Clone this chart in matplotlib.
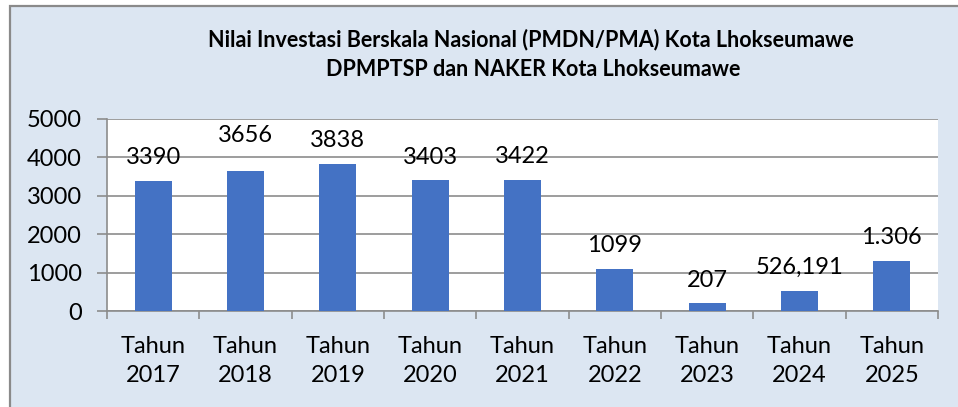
import matplotlib
matplotlib.use("Agg")
import matplotlib.pyplot as plt
from matplotlib.patches import Rectangle
from matplotlib.ticker import FixedLocator, NullFormatter

plt.rcParams['font.family'] = ['Lato', 'DejaVu Sans']

categories = ["Tahun\n2017", "Tahun\n2018", "Tahun\n2019", "Tahun\n2020", "Tahun\n2021",
              "Tahun\n2022", "Tahun\n2023", "Tahun\n2024", "Tahun\n2025"]
values = [3390, 3656, 3838, 3403, 3422, 1099, 207, 526.191, 1306]
value_labels = ["3390", "3656", "3838", "3403", "3422", "1099", "207", "526,191", "1.306"]
yticks = [0, 1000, 2000, 3000, 4000, 5000]
title_lines = ["Nilai Investasi Berskala Nasional (PMDN/PMA) Kota Lhokseumawe",
               "DPMPTSP dan NAKER Kota Lhokseumawe"]

# label offsets above bar tops (points); the 2018 label sits higher in the original
label_offsets = [9, 17.5, 9, 9, 9, 9, 9, 9, 9]

W, H = 958, 407
fig = plt.figure(figsize=(W / 100, H / 100), dpi=100)
fig.patch.set_facecolor("white")

bg = "#dce6f2"
frame = Rectangle((10 / W, -0.05), 1.0, (H - 6) / H + 0.05, transform=fig.transFigure,
                  facecolor=bg, edgecolor="#8a8a8a", linewidth=1.6, zorder=-5)
fig.patches.append(frame)

ax = fig.add_axes([107 / W, (H - 311) / H, (938 - 107) / W, (311 - 119) / H])
ax.set_zorder(2)
ax.set_facecolor("white")

x = list(range(len(categories)))
bars = ax.bar(x, values, width=0.40, color="#4472c4", zorder=3)

for xi, v, lab, off in zip(x, values, value_labels, label_offsets):
    ax.annotate(lab, (xi, v), xytext=(0, off), textcoords="offset points",
                ha="center", va="bottom", fontsize=17, color="black", zorder=4)

ax.set_xlim(-0.5, len(categories) - 0.5)
ax.set_ylim(0, 5000)
ax.set_yticks(yticks)
ax.set_yticklabels([str(t) for t in yticks], fontsize=17)
ax.yaxis.grid(True, color="#8c8c8c", linewidth=1.2, zorder=1)
ax.set_axisbelow(True)

ax.set_xticks(x)
ax.set_xticklabels(categories, fontsize=17, linespacing=1.5)
ax.xaxis.set_minor_locator(FixedLocator([i - 0.5 for i in range(len(categories) + 1)]))
ax.xaxis.set_minor_formatter(NullFormatter())
ax.tick_params(axis="x", which="major", length=0, pad=18)
ax.tick_params(axis="x", which="minor", length=6, width=1.2, color="#8c8c8c")
ax.tick_params(axis="y", length=7, width=1.2, color="#8c8c8c", pad=11)

for side in ["top", "right"]:
    ax.spines[side].set_visible(False)
for side in ["left", "bottom"]:
    ax.spines[side].set_color("#8c8c8c")
    ax.spines[side].set_linewidth(1.2)

fig.text(531 / W, 1 - 40 / H, title_lines[0], ha="center", va="center",
         fontsize=15.5, fontweight="bold")
fig.text(533 / W, 1 - 70 / H, title_lines[1], ha="center", va="center",
         fontsize=15.5, fontweight="bold")

fig.savefig("out.png", dpi=100, facecolor=fig.get_facecolor())
